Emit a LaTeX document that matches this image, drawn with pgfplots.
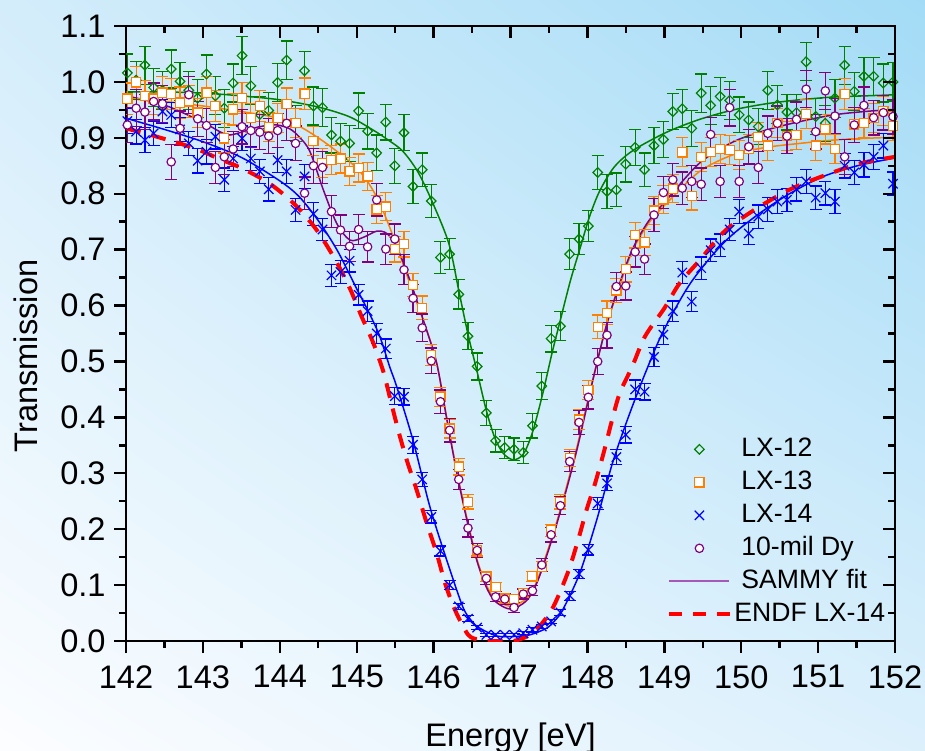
\documentclass[border=0pt]{standalone}
\usepackage{pgfplots}
\pgfplotsset{compat=1.18}
\usetikzlibrary{shadings}
\usepackage{fontspec}
\setmainfont{Liberation Sans}
\definecolor{cgreen}{RGB}{0,128,0}
\definecolor{corange}{RGB}{255,128,0}
\definecolor{cblue}{RGB}{0,0,255}
\definecolor{cpurple}{RGB}{128,0,128}
\definecolor{cred}{RGB}{255,0,0}
\definecolor{clegpurple}{RGB}{165,90,185}
\definecolor{bgUL}{RGB}{212,237,251}
\definecolor{bgUR}{RGB}{163,219,246}
\definecolor{bgLL}{RGB}{252,253,255}
\definecolor{bgLR}{RGB}{220,240,252}

\pgfplotstableread{
E T e
142.018 1.016 .034
142.132 1.003 .034
142.246 1.030 .034
142.360 0.990 .034
142.474 0.985 .034
142.588 1.023 .034
142.703 1.001 .034
142.817 0.985 .034
142.932 0.971 .034
143.047 1.014 .034
143.162 0.975 .034
143.278 0.953 .034
143.393 0.998 .034
143.509 1.047 .034
143.624 0.993 .034
143.740 0.942 .032
143.856 0.949 .032
143.972 0.999 .034
144.089 1.039 .034
144.205 0.926 .032
144.322 1.020 .034
144.438 0.957 .034
144.555 0.954 .034
144.672 0.905 .032
144.790 0.894 .032
144.907 0.890 .032
145.025 0.948 .032
145.142 0.912 .032
145.260 0.873 .032
145.378 0.928 .032
145.496 0.850 .031
145.615 0.909 .032
145.733 0.813 .030
145.852 0.843 .030
145.970 0.787 .030
146.089 0.686 .028
146.208 0.692 .028
146.327 0.620 .026
146.447 0.545 .024
146.566 0.491 .024
146.686 0.408 .022
146.806 0.358 .020
146.926 0.346 .020
147.046 0.343 .020
147.166 0.337 .020
147.286 0.385 .022
147.407 0.456 .024
147.528 0.541 .024
147.649 0.563 .026
147.770 0.692 .028
147.891 0.719 .028
148.012 0.742 .028
148.134 0.838 .030
148.255 0.804 .030
148.377 0.807 .030
148.499 0.853 .032
148.621 0.883 .032
148.743 0.843 .030
148.866 0.886 .032
148.988 0.897 .032
149.111 0.947 .032
149.234 0.952 .034
149.357 0.917 .032
149.480 0.980 .034
149.603 0.958 .034
149.726 0.974 .034
149.850 0.967 .034
149.974 0.941 .032
150.098 0.932 .032
150.222 0.920 .032
150.346 0.985 .034
150.470 0.959 .034
150.595 0.946 .032
150.719 0.945 .032
150.844 1.036 .034
150.969 0.938 .032
151.094 0.926 .032
151.219 0.971 .034
151.345 1.030 .034
151.470 0.983 .034
151.596 1.010 .034
151.722 1.010 .034
151.848 0.998 .034
151.974 1.000 .034
}\lxtwelve

\pgfplotstableread{
E T e
142.018 0.970 .028
142.132 0.999 .028
142.246 0.975 .028
142.360 0.970 .028
142.474 0.981 .028
142.588 0.978 .028
142.703 0.963 .028
142.817 0.965 .028
142.932 0.945 .026
143.047 0.981 .028
143.162 0.957 .028
143.278 0.899 .026
143.393 0.951 .028
143.509 0.971 .028
143.624 0.935 .026
143.740 0.957 .028
143.856 0.919 .026
143.972 0.935 .026
144.089 0.961 .028
144.205 0.926 .026
144.322 0.979 .028
144.438 0.894 .026
144.555 0.855 .026
144.672 0.860 .026
144.790 0.863 .026
144.907 0.840 .025
145.025 0.846 .025
145.142 0.831 .025
145.260 0.772 .025
145.378 0.777 .025
145.496 0.701 .023
145.615 0.710 .023
145.733 0.637 .021
145.852 0.596 .021
145.970 0.512 .019
146.089 0.437 .017
146.208 0.380 .017
146.327 0.312 .015
146.447 0.249 .013
146.566 0.163 .011
146.686 0.115 .009
146.806 0.097 .008
146.926 0.076 .008
147.046 0.075 .008
147.166 0.086 .008
147.286 0.116 .009
147.407 0.133 .009
147.528 0.198 .011
147.649 0.249 .013
147.770 0.327 .015
147.891 0.396 .017
148.012 0.449 .017
148.134 0.562 .021
148.255 0.587 .021
148.377 0.627 .021
148.499 0.665 .023
148.621 0.726 .023
148.743 0.713 .023
148.866 0.770 .025
148.988 0.790 .025
149.111 0.809 .025
149.234 0.874 .026
149.357 0.796 .025
149.480 0.866 .026
149.603 0.875 .026
149.726 0.880 .026
149.850 0.878 .026
149.974 0.869 .026
150.098 0.880 .026
150.222 0.902 .026
150.346 0.886 .026
150.470 0.927 .026
150.595 0.903 .026
150.719 0.905 .026
150.844 0.943 .026
150.969 0.886 .026
151.094 0.915 .026
151.219 0.880 .026
151.345 0.978 .028
151.470 0.924 .026
151.596 0.927 .026
151.722 0.935 .026
151.848 0.948 .026
151.974 0.921 .026
}\lxthirteen

\pgfplotstableread{
E T e
142.018 0.930 .022
142.132 0.911 .022
142.246 0.896 .022
142.360 0.908 .022
142.474 0.947 .022
142.588 0.941 .022
142.703 0.915 .022
142.817 0.890 .022
142.932 0.859 .022
143.047 0.875 .022
143.162 0.902 .022
143.278 0.825 .021
143.393 0.863 .022
143.509 0.899 .022
143.624 0.863 .022
143.740 0.840 .021
143.856 0.808 .021
143.972 0.860 .022
144.089 0.840 .021
144.205 0.771 .021
144.322 0.831 .021
144.438 0.764 .021
144.555 0.736 .020
144.672 0.654 .020
144.790 0.660 .020
144.907 0.680 .020
145.025 0.619 .018
145.142 0.590 .018
145.260 0.550 .018
145.378 0.523 .017
145.496 0.438 .015
145.615 0.437 .015
145.733 0.351 .015
145.852 0.289 .013
145.970 0.222 .011
146.089 0.161 .009
146.208 0.100 .008
146.327 0.062 .005
146.447 0.040 .005
146.566 0.024 .004
146.686 0.011 .0025
146.806 0.011 .0025
146.926 0.011 .0025
147.046 0.011 .0025
147.166 0.014 .0025
147.286 0.020 .004
147.407 0.026 .004
147.528 0.035 .004
147.649 0.051 .005
147.770 0.081 .008
147.891 0.120 .008
148.012 0.163 .009
148.134 0.246 .011
148.255 0.282 .013
148.377 0.329 .013
148.499 0.369 .015
148.621 0.450 .017
148.743 0.446 .015
148.866 0.508 .017
148.988 0.548 .017
149.111 0.590 .018
149.234 0.659 .020
149.357 0.607 .018
149.480 0.667 .020
149.603 0.699 .020
149.726 0.708 .020
149.850 0.736 .020
149.974 0.768 .021
150.098 0.729 .020
150.222 0.759 .021
150.346 0.772 .021
150.470 0.786 .021
150.595 0.789 .021
150.719 0.808 .021
150.844 0.822 .021
150.969 0.793 .021
151.094 0.801 .021
151.219 0.786 .021
151.345 0.850 .022
151.470 0.838 .021
151.596 0.852 .022
151.722 0.866 .022
151.848 0.886 .022
151.974 0.818 .021
}\lxfourteen

\pgfplotstableread{
E T e
142.018 0.923 .031
142.132 0.953 .033
142.246 0.946 .031
142.360 0.965 .033
142.474 0.961 .033
142.588 0.857 .031
142.703 0.917 .031
142.817 0.977 .033
142.932 0.934 .031
143.047 0.922 .031
143.162 0.847 .029
143.278 0.866 .031
143.393 0.880 .031
143.509 0.920 .031
143.624 0.913 .031
143.740 0.910 .031
143.856 0.903 .031
143.972 0.913 .031
144.089 0.926 .031
144.205 0.890 .031
144.322 0.801 .029
144.438 0.850 .031
144.555 0.847 .029
144.672 0.768 .029
144.790 0.735 .027
144.907 0.706 .027
145.025 0.736 .027
145.142 0.705 .027
145.260 0.789 .029
145.378 0.701 .027
145.496 0.719 .027
145.615 0.664 .027
145.733 0.613 .025
145.852 0.560 .025
145.970 0.501 .023
146.089 0.428 .021
146.208 0.377 .021
146.327 0.289 .018
146.447 0.202 .016
146.566 0.162 .013
146.686 0.112 .011
146.806 0.079 .009
146.926 0.075 .009
147.046 0.060 .009
147.166 0.084 .009
147.286 0.090 .009
147.407 0.136 .011
147.528 0.190 .013
147.649 0.242 .016
147.770 0.321 .018
147.891 0.391 .021
148.012 0.436 .021
148.134 0.500 .023
148.255 0.547 .023
148.377 0.634 .025
148.499 0.635 .025
148.621 0.696 .027
148.743 0.683 .027
148.866 0.762 .029
148.988 0.802 .029
149.111 0.825 .029
149.234 0.810 .029
149.357 0.822 .029
149.480 0.817 .029
149.603 0.906 .031
149.726 0.822 .029
149.850 0.954 .033
149.974 0.822 .029
150.098 0.884 .031
150.222 0.847 .029
150.346 0.908 .031
150.470 0.926 .031
150.595 0.903 .031
150.719 0.933 .031
150.844 0.987 .033
150.969 0.911 .031
151.094 0.984 .033
151.219 0.939 .031
151.345 0.866 .031
151.470 0.923 .031
151.596 0.958 .033
151.722 0.936 .031
151.848 0.945 .031
151.974 0.938 .031
}\dy

\tikzset{
  mkG/.style={mark=diamond, mark size=2.4pt, mark options={xscale=1.33, line width=0.6pt}},
  mkO/.style={mark=square*, mark size=2.3pt, mark options={fill=white, line width=0.6pt}},
  mkB/.style={mark=x, mark size=3.3pt, mark options={line width=0.6pt}},
  mkP/.style={mark=*, mark size=2.1pt, mark options={fill=white, line width=0.6pt}},
}
\pgfplotsset{
  common/.style={
    at={(0pt,0pt)}, anchor=south west,
    scale only axis, width=384.5pt, height=307.5pt,
    xmin=142, xmax=152, ymin=0, ymax=1.1,
    xtick={142,143,144,145,146,147,148,149,150,151,152},
    ytick={0,0.1,0.2,0.3,0.4,0.5,0.6,0.7,0.8,0.9,1.0,1.1},
    minor x tick num=1, minor y tick num=1,
    axis line style={line width=1.3pt},
    every tick/.style={line width=1.2pt, black},
    major tick length=6pt, minor tick length=3.5pt,
  },
  ebar/.style={error bars/.cd, y dir=both, y explicit,
    error bar style={line width=0.6pt},
    error mark options={rotate=90, mark size=3pt, line width=0.6pt}},
}

\begin{document}
\begin{tikzpicture}
\shade[upper left=bgUL, upper right=bgUR, lower left=bgLL, lower right=bgLR]
  (-63pt,-54.5pt) rectangle (399.5pt,320.5pt);

\begin{axis}[common,
  tick align=outside, xtick pos=bottom, ytick pos=left,
  /pgf/number format/assume math mode=true,
  tick label style={font=\fontsize{16.3}{19}\selectfont, inner sep=0pt},
  xticklabel style={yshift=-6pt},
  yticklabel style={xshift=-4pt, /pgf/number format/.cd, fixed, fixed zerofill, precision=1},
  xlabel={Energy [eV]}, ylabel={Transmission},
  label style={font=\fontsize{16.3}{19}\selectfont, inner sep=0pt},
  xlabel style={at={(axis description cs:0.5,0)}, anchor=north, yshift=-40.5pt},
  ylabel style={at={(axis description cs:-0.1144,0.4634)}, anchor=south},
  legend style={at={(axis description cs:0.7035,0.3325)}, anchor=north west,
    draw=none, fill=none, inner sep=0pt, row sep=4.1pt,
    font=\fontsize{13.3}{16}\selectfont,
    nodes={inner sep=0pt, text height=9.6pt, text depth=2.8pt},
    /tikz/every odd column/.append style={column sep=4pt}},
  legend cell align=left,
]
% fit curves
\addplot[cgreen, line width=0.75pt, smooth, forget plot] table {
142.0 0.982
142.5 0.982
143.0 0.980
143.5 0.975
144.0 0.968
144.5 0.955
144.9 0.938
145.2 0.915
145.4 0.897
145.6 0.876
145.8 0.838
146.0 0.780
146.2 0.710
146.33 0.625
146.45 0.547
146.56 0.485
146.69 0.410
146.8 0.362
146.91 0.335
147.04 0.324
147.17 0.335
147.29 0.375
147.42 0.443
147.54 0.515
147.65 0.575
147.78 0.645
147.91 0.705
148.03 0.760
148.16 0.805
148.35 0.848
148.6 0.878
149.03 0.910
149.46 0.933
149.9 0.950
150.33 0.961
150.76 0.968
151.2 0.973
151.6 0.975
152.0 0.977
};
\addplot[corange, line width=0.75pt, smooth, forget plot] table {
142.0 0.970
142.5 0.965
143.0 0.957
143.5 0.947
144.0 0.935
144.25 0.921
144.5 0.900
144.75 0.875
145.0 0.846
145.15 0.820
145.3 0.783
145.476 0.723
145.69 0.640
145.91 0.556
146.04 0.497
146.17 0.400
146.3 0.305
146.43 0.222
146.56 0.148
146.68 0.102
146.8 0.075
147.0 0.062
147.2 0.075
147.32 0.100
147.43 0.140
147.62 0.222
147.86 0.345
148.07 0.468
148.25 0.565
148.45 0.648
148.6 0.702
148.8 0.748
149.03 0.783
149.46 0.840
149.9 0.870
150.33 0.883
150.76 0.890
151.2 0.896
151.6 0.899
152.0 0.901
};
\addplot[cblue, line width=0.75pt, smooth, forget plot] table {
142.0 0.935
142.5 0.915
143.0 0.893
143.5 0.865
144.0 0.823
144.25 0.795
144.5 0.752
144.75 0.698
145.0 0.630
145.15 0.590
145.3 0.545
145.43 0.490
145.52 0.455
145.73 0.360
145.95 0.241
146.17 0.145
146.38 0.061
146.5 0.035
146.6 0.023
146.82 0.009
147.03 0.008
147.25 0.011
147.47 0.023
147.58 0.037
147.68 0.056
147.9 0.121
148.12 0.216
148.33 0.320
148.55 0.407
148.77 0.485
148.99 0.555
149.34 0.640
149.77 0.712
150.21 0.762
150.64 0.801
151.07 0.831
151.51 0.850
152.0 0.864
};
\addplot[cpurple, line width=0.75pt, smooth, forget plot] table {
142.0 0.975
142.3 0.966
142.57 0.955
143.0 0.928
143.22 0.911
143.35 0.905
143.57 0.913
143.74 0.920
143.96 0.923
144.13 0.916
144.25 0.902
144.39 0.876
144.566 0.807
144.74 0.747
144.913 0.717
145.086 0.722
145.26 0.733
145.39 0.729
145.52 0.705
145.69 0.646
145.866 0.574
146.04 0.497
146.17 0.398
146.3 0.302
146.43 0.218
146.56 0.145
146.68 0.098
146.8 0.071
147.0 0.057
147.2 0.071
147.32 0.097
147.43 0.136
147.62 0.218
147.86 0.340
148.07 0.466
148.25 0.566
148.45 0.652
148.6 0.705
148.8 0.752
149.03 0.789
149.46 0.855
149.9 0.893
150.33 0.914
150.76 0.929
151.2 0.941
151.6 0.947
152.0 0.951
};
% data
\addplot[cgreen, forget plot, only marks, mkG, ebar]
  table[x=E, y=T, y error=e] {\lxtwelve};
\addplot[corange, forget plot, only marks, mkO, ebar]
  table[x=E, y=T, y error=e] {\lxthirteen};
\addplot[cblue, forget plot, only marks, mkB, ebar]
  table[x=E, y=T, y error=e] {\lxfourteen};
\addplot[cpurple, forget plot, only marks, mkP, ebar]
  table[x=E, y=T, y error=e] {\dy};
% ENDF
\addplot[cred, line width=2pt, dash pattern=on 7.5pt off 5.5pt, smooth, forget plot] table {
142.0 0.917
142.4 0.902
142.9 0.881
143.2 0.863
143.5 0.846
143.87 0.818
144.2 0.780
144.48 0.735
144.72 0.682
144.91 0.631
145.065 0.580
145.216 0.533
145.346 0.482
145.44 0.431
145.54 0.377
145.65 0.324
145.78 0.270
145.91 0.211
146.04 0.157
146.15 0.103
146.28 0.055
146.45 0.011
146.6 0.002
146.75 0.000
147.0 0.000
147.1 0.002
147.25 0.011
147.4 0.030
147.56 0.062
147.75 0.124
147.88 0.181
147.99 0.235
148.1 0.282
148.21 0.336
148.32 0.395
148.42 0.443
148.58 0.490
148.75 0.545
149.0 0.595
149.2 0.640
149.46 0.681
149.8 0.735
150.24 0.777
150.67 0.810
151.11 0.834
151.54 0.854
152.0 0.866
};
% legend
\addlegendimage{legend image code/.code={\path[draw=none,fill=none] (0pt,0pt) -- (30pt,0pt);
  \draw[cgreen, mkG] plot coordinates {(15pt,0pt)};}}
\addlegendentry{LX-12}
\addlegendimage{legend image code/.code={\path[draw=none,fill=none] (0pt,0pt) -- (30pt,0pt);
  \draw[corange, mkO] plot coordinates {(15pt,0pt)};}}
\addlegendentry{LX-13}
\addlegendimage{legend image code/.code={\path[draw=none,fill=none] (0pt,0pt) -- (30pt,0pt);
  \draw[cblue, mkB] plot coordinates {(15pt,0pt)};}}
\addlegendentry{LX-14}
\addlegendimage{legend image code/.code={\path[draw=none,fill=none] (0pt,0pt) -- (30pt,0pt);
  \draw[cpurple, mkP] plot coordinates {(15pt,0pt)};}}
\addlegendentry{10-mil Dy}
\addlegendimage{legend image code/.code={\draw[clegpurple, line width=0.9pt] (0pt,0pt) -- (30pt,0pt);}}
\addlegendentry{SAMMY fit}
\addlegendimage{legend image code/.code={\draw[cred, line width=2pt, dash pattern=on 6.5pt off 5.5pt] (0pt,0pt) -- (31pt,0pt);}}
\addlegendentry{\hspace{-3.5pt}ENDF LX-14}
\end{axis}

\begin{axis}[common,
  axis x line*=top, axis y line*=right, tick align=inside,
  xticklabels={}, yticklabels={},
]
\addplot[draw=none] coordinates {(142,0)};
\end{axis}

\pgfresetboundingbox
\path[use as bounding box] (-63pt,-54.5pt) rectangle (399.5pt,320.5pt);
\end{tikzpicture}
\end{document}
